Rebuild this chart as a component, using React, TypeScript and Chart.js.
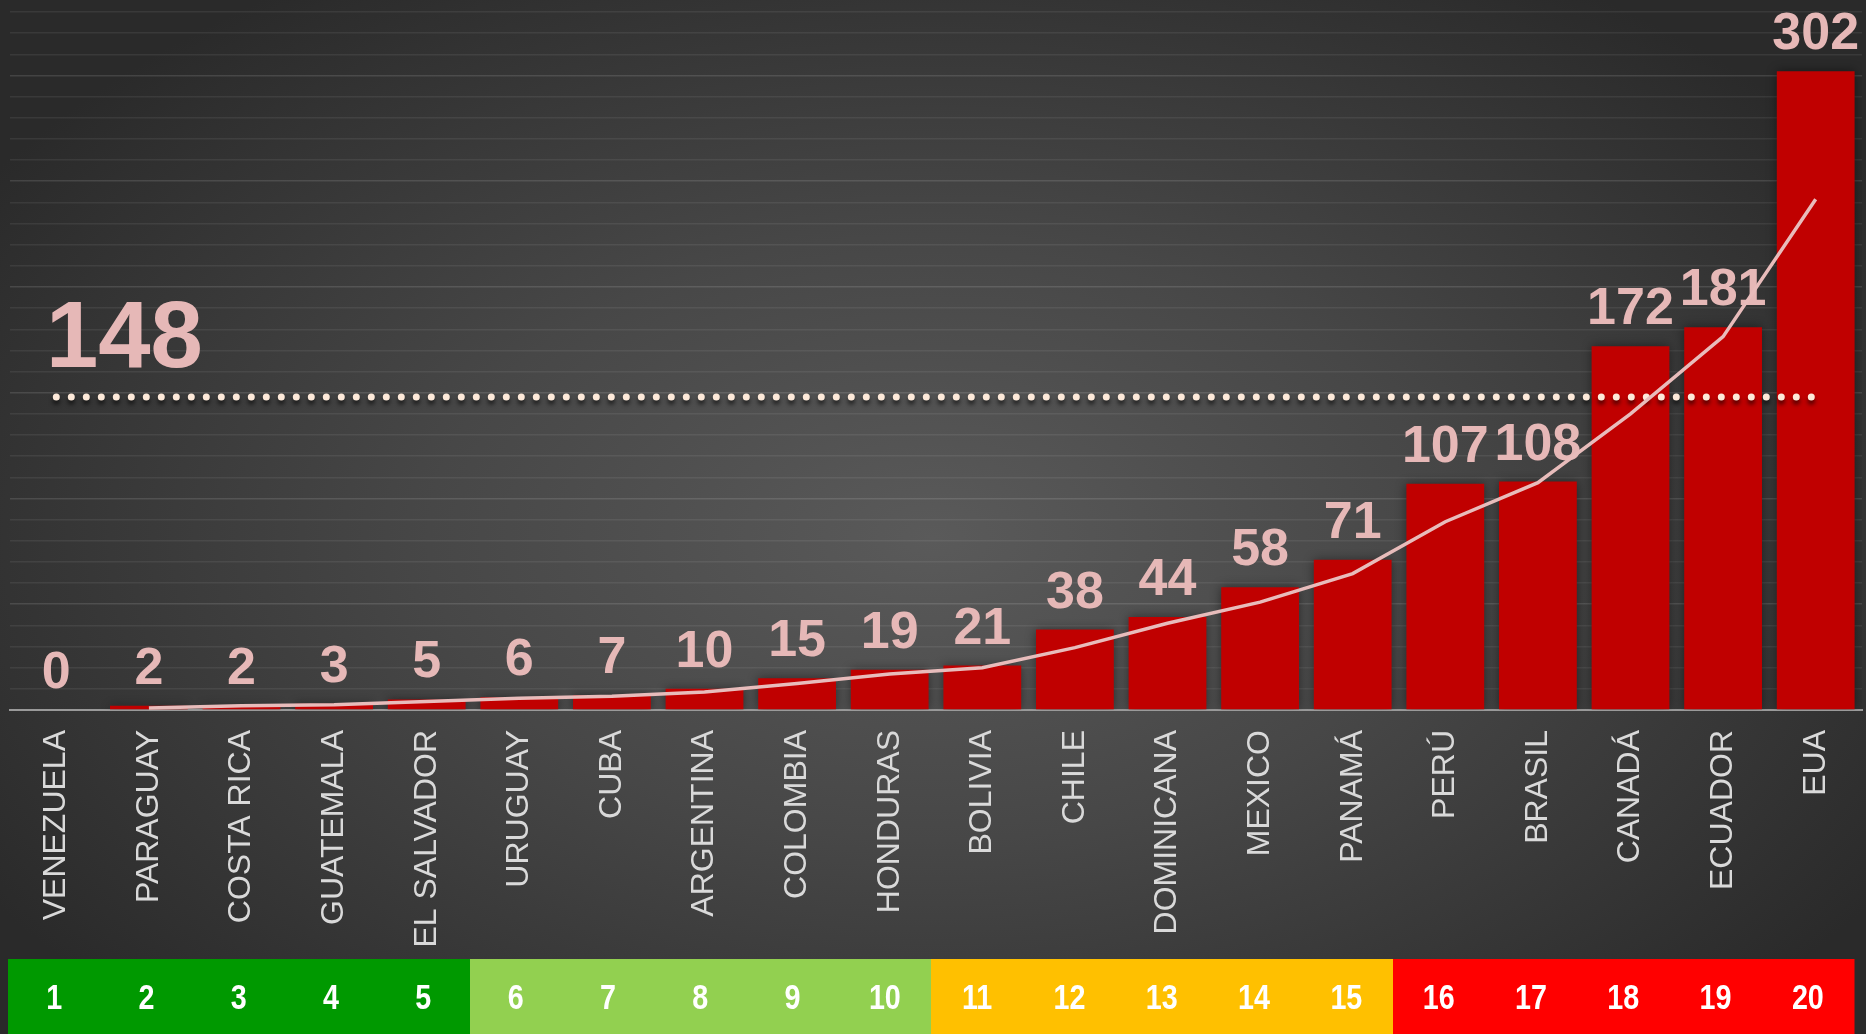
import React, { useEffect, useRef } from 'react';
import { Chart, registerables } from 'chart.js';

Chart.register(...registerables);

const countries = [
  'VENEZUELA', 'PARAGUAY', 'COSTA RICA', 'GUATEMALA', 'EL SALVADOR',
  'URUGUAY', 'CUBA', 'ARGENTINA', 'COLOMBIA', 'HONDURAS',
  'BOLIVIA', 'CHILE', 'DOMINICANA', 'MEXICO', 'PANAMÁ',
  'PERÚ', 'BRASIL', 'CANADÁ', 'ECUADOR', 'EUA',
];
const values = [0, 2, 2, 3, 5, 6, 7, 10, 15, 19, 21, 38, 44, 58, 71, 107, 108, 172, 181, 302];
const trend = [null, 1, 2, 2.5, 4, 5.5, 6.5, 8.5, 12.5, 17, 20, 29.5, 41, 51, 64.5, 89, 107.5, 140, 176.5, 241.5];
const threshold = 148;
const thresholdLine = [148, 148, 148, 148, 148, 148, 148, 148, 148, 148, 148, 148, 148, 148, 148, 148, 148, 148, 148, 148];
const ranks = ['1', '2', '3', '4', '5', '6', '7', '8', '9', '10', '11', '12', '13', '14', '15', '16', '17', '18', '19', '20'];
const rankColors = [
  '#009900', '#009900', '#009900', '#009900', '#009900',
  '#92D050', '#92D050', '#92D050', '#92D050', '#92D050',
  '#FFC000', '#FFC000', '#FFC000', '#FFC000', '#FFC000',
  '#FF0000', '#FF0000', '#FF0000', '#FF0000', '#FF0000',
];
const yMin = 0;
const yMax = 330;
const yStep = 10;

const W = 1866;
const H = 1034;
const FONT = '"Liberation Sans", Arial, sans-serif';
const PINK = '#e6b8b7';

const overlayPlugin = {
  id: 'overlay',
  beforeDatasetDraw(chart: any, args: any) {
    const ctx = chart.ctx;
    if (args.index === 0) {
      ctx.save();
      ctx.shadowColor = 'rgba(0,0,0,0.45)';
      ctx.shadowBlur = 10;
    } else if (args.index === 1) {
      ctx.save();
      ctx.shadowColor = 'rgba(0,0,0,0.6)';
      ctx.shadowBlur = 4;
      ctx.shadowOffsetY = 4;
    }
  },
  afterDatasetDraw(chart: any, args: any) {
    const ctx = chart.ctx;
    if (args.index === 0 || args.index === 1) ctx.restore();
    if (args.index === 0) {
      const meta = chart.getDatasetMeta(0);
      ctx.save();
      ctx.font = `bold 52px ${FONT}`;
      ctx.fillStyle = PINK;
      ctx.textAlign = 'center';
      ctx.textBaseline = 'alphabetic';
      meta.data.forEach((bar: any, i: number) => {
        ctx.fillText(String(values[i]), bar.x, bar.y - 22);
      });
      ctx.restore();
    }
  },
  afterDraw(chart: any) {
    const ctx = chart.ctx;
    const xs = chart.scales.x;
    const ys = chart.scales.y;
    // threshold label
    ctx.save();
    ctx.font = `bold 94px ${FONT}`;
    ctx.fillStyle = PINK;
    ctx.textAlign = 'left';
    ctx.textBaseline = 'alphabetic';
    ctx.fillText(String(threshold), 46, ys.getPixelForValue(threshold) - 30);
    ctx.restore();

    // rank strip
    const left = xs.left - 2;
    const cellW = (xs.width - 6) / ranks.length;
    const top = 959;
    const bottom = H;
    ctx.save();
    ranks.forEach((r, i) => {
      const x0 = Math.round(left + i * cellW);
      const x1 = Math.round(left + (i + 1) * cellW);
      ctx.fillStyle = rankColors[i];
      ctx.fillRect(x0, top, x1 - x0 + 0.5, bottom - top);
    });
    ctx.fillStyle = '#ffffff';
    ctx.font = `bold 35px ${FONT}`;
    ctx.textAlign = 'center';
    ctx.textBaseline = 'middle';
    ranks.forEach((r, i) => {
      const cx = left + (i + 0.5) * cellW;
      ctx.save();
      ctx.translate(cx, 999);
      ctx.scale(0.82, 1);
      ctx.fillText(r, 0, 0);
      ctx.restore();
    });
    ctx.restore();
  },
};

export default function App() {
  const canvasRef = useRef<HTMLCanvasElement | null>(null);

  useEffect(() => {
    const canvas = canvasRef.current;
    if (!canvas) return;
    const chart = new Chart(canvas, {
      type: 'bar',
      data: {
        labels: countries,
        datasets: [
          {
            type: 'bar',
            data: values,
            backgroundColor: '#C00000',
            borderWidth: 0,
            barPercentage: 0.84,
            categoryPercentage: 1,
            order: 3,
          } as any,
          {
            type: 'line',
            data: thresholdLine,
            borderColor: '#fde9d9',
            borderWidth: 7,
            borderDash: [0, 15],
            borderCapStyle: 'round',
            pointRadius: 0,
            fill: false,
            order: 2,
          } as any,
          {
            type: 'line',
            data: trend,
            borderColor: '#e8bcbb',
            borderWidth: 3.5,
            pointRadius: 0,
            tension: 0,
            fill: false,
            spanGaps: false,
            order: 1,
          } as any,
        ],
      },
      options: {
        responsive: false,
        devicePixelRatio: 1,
        animation: false,
        layout: { padding: { left: 10, right: 4, top: 12, bottom: 0 } },
        plugins: {
          legend: { display: false },
          tooltip: { enabled: false },
        },
        scales: {
          x: {
            grid: { display: false, drawTicks: false },
            border: { display: true, color: '#9a9a9a', width: 2 },
            ticks: {
              autoSkip: false,
              minRotation: 90,
              maxRotation: 90,
              padding: 20,
              color: '#d9d9d9',
              font: { family: FONT, size: 32 },
            },
            afterFit: (scale: any) => {
              scale.height = H - 710;
              scale.paddingLeft = 0;
              scale.paddingRight = 0;
            },
          },
          y: {
            min: yMin,
            max: yMax,
            grid: {
              drawTicks: false,
              lineWidth: 1.5,
              color: (c: any) =>
                c.tick && c.tick.value % 50 === 0 && c.tick.value !== 0
                  ? 'rgba(255,255,255,0.12)'
                  : 'rgba(255,255,255,0.07)',
            },
            border: { display: false },
            ticks: { display: false, stepSize: yStep },
            afterFit: (scale: any) => {
              scale.width = 0;
              scale.paddingTop = 0;
              scale.paddingBottom = 0;
            },
          },
        },
      },
      plugins: [overlayPlugin],
    } as any);
    return () => chart.destroy();
  }, []);

  return (
    <div
      style={{
        position: 'fixed',
        left: 0,
        top: 0,
        width: W,
        height: H,
        background:
          'radial-gradient(ellipse 60% 65% at 50% 52%, #5a5a5a 0%, #474747 45%, #2a2a2a 100%)',
      }}
    >
      <canvas ref={canvasRef} width={W} height={H} style={{ display: 'block', width: W, height: H }} />
    </div>
  );
}
